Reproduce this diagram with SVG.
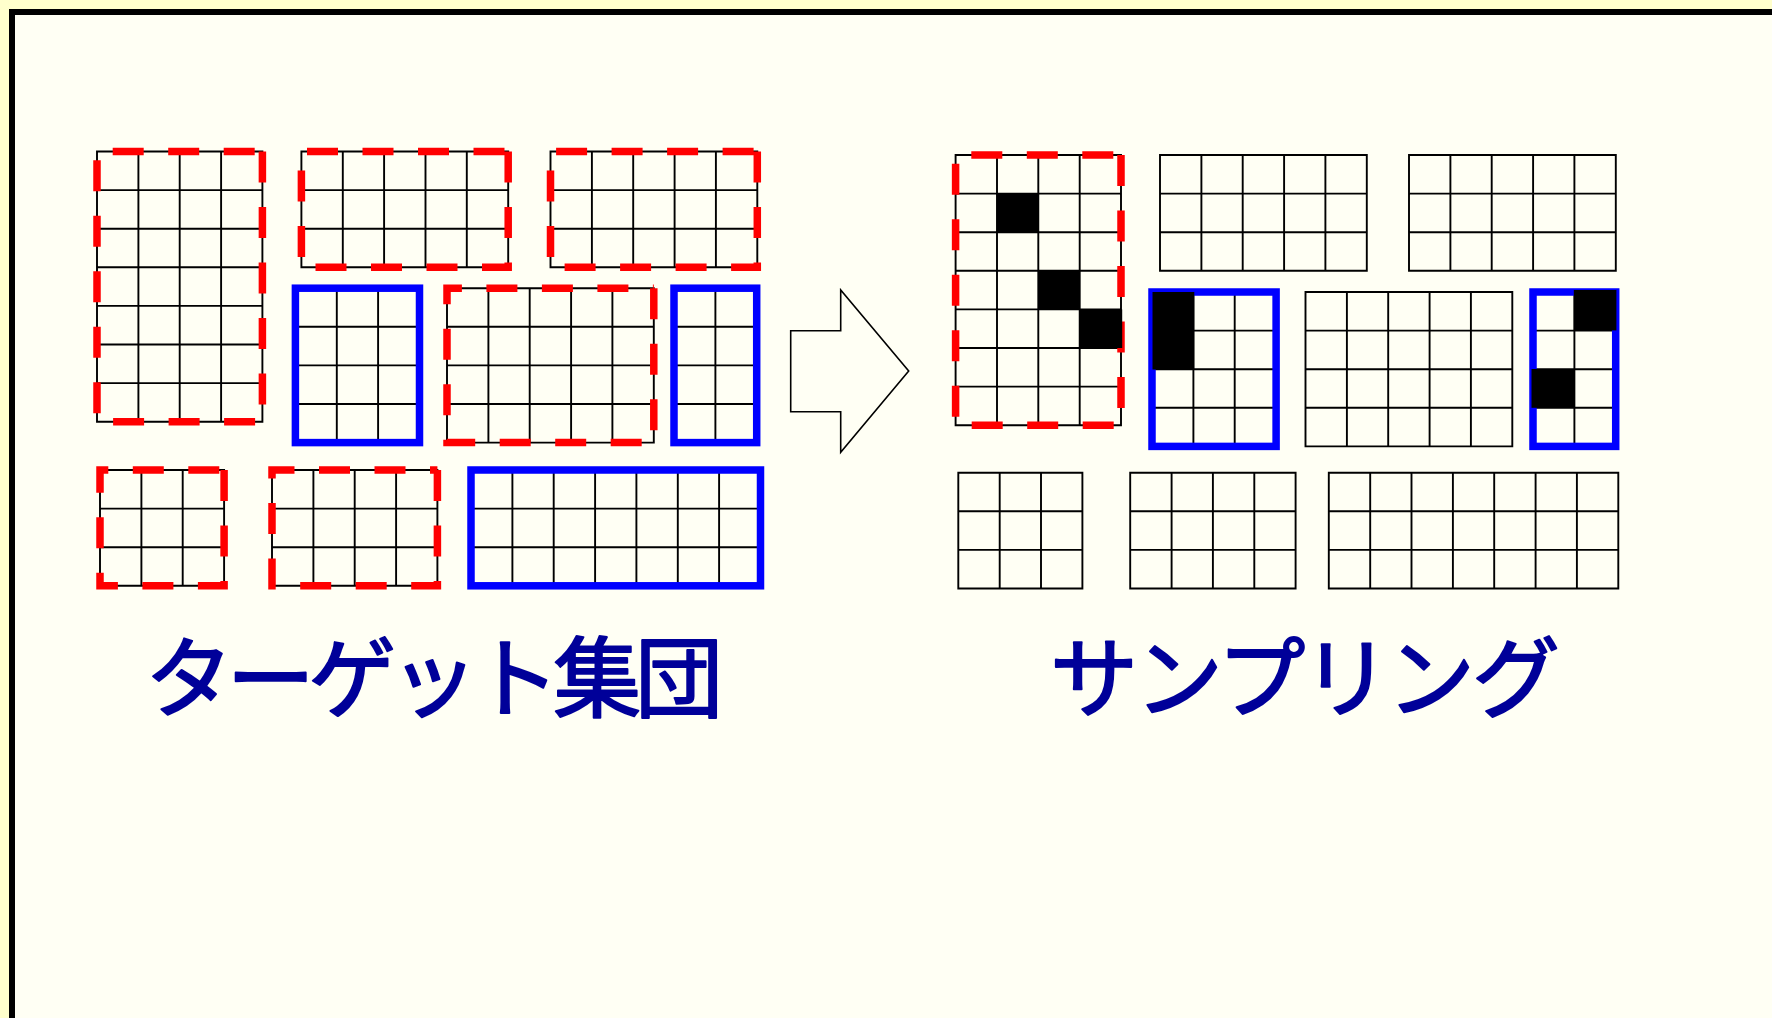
<svg xmlns="http://www.w3.org/2000/svg" width="1772" height="1018" viewBox="0 0 1772 1018">
<style>
.g{fill:none;stroke:#000;stroke-width:1.9}
.r{fill:none;stroke:#FF0000;stroke-width:7.5;stroke-dasharray:31 24.5}
.b{fill:none;stroke:#0000FF;stroke-width:7.5}
.k{fill:#000}
.t{font-family:"Noto Sans CJK JP","Noto Sans CJK SC",sans-serif;font-size:88px;font-weight:normal;fill:#000099;stroke:#000099;stroke-width:2;stroke-linejoin:round}
</style>
<rect x="0" y="0" width="1772" height="1018" fill="#FFFFCC"/>
<rect x="12" y="12" width="1800" height="1050" fill="#FFFFF4" stroke="#000" stroke-width="6"/>

<g id="target-A">
<path class="g" d="M97 151.5H262.4V421.7H97Z M138.4 151.5V421.7 M179.7 151.5V421.7 M221.1 151.5V421.7 M97 190.1H262.4 M97 228.7H262.4 M97 267.3H262.4 M97 305.9H262.4 M97 344.5H262.4 M97 383.1H262.4"/>
<path class="r" d="M262.4 151.5V421.7H97V151.5H262.4"/>
</g>
<g id="target-B">
<path class="g" d="M301.4 151.5H508.2V267.3H301.4Z M342.8 151.5V267.3 M384.1 151.5V267.3 M425.5 151.5V267.3 M466.8 151.5V267.3 M301.4 190.1H508.2 M301.4 228.7H508.2"/>
<path class="r" d="M508.2 151.5V267.3H301.4V151.5H508.2"/>
</g>
<g id="target-C">
<path class="g" d="M550.5 151.5H757.3V267.3H550.5Z M591.9 151.5V267.3 M633.2 151.5V267.3 M674.6 151.5V267.3 M715.9 151.5V267.3 M550.5 190.1H757.3 M550.5 228.7H757.3"/>
<path class="r" d="M757.3 151.5V267.3H550.5V151.5H757.3"/>
</g>
<g id="target-D">
<path class="g" d="M295.4 288.2H419.5V442.6H295.4Z M336.8 288.2V442.6 M378.1 288.2V442.6 M295.4 326.8H419.5 M295.4 365.4H419.5 M295.4 404H419.5"/>
<rect class="b" x="295.4" y="288.2" width="124.1" height="154.4"/>
</g>
<g id="target-E">
<path class="g" d="M447 288.2H653.8V442.6H447Z M488.4 288.2V442.6 M529.7 288.2V442.6 M571.1 288.2V442.6 M612.4 288.2V442.6 M447 326.8H653.8 M447 365.4H653.8 M447 404H653.8"/>
<path class="r" d="M653.8 288.2V442.6H447V288.2H653.8"/>
</g>
<g id="target-F">
<path class="g" d="M674 288.2H756.7V442.6H674Z M715.4 288.2V442.6 M674 326.8H756.7 M674 365.4H756.7 M674 404H756.7"/>
<rect class="b" x="674" y="288.2" width="82.7" height="154.4"/>
</g>
<g id="target-G">
<path class="g" d="M100 470H224.1V585.8H100Z M141.4 470V585.8 M182.7 470V585.8 M100 508.6H224.1 M100 547.2H224.1"/>
<path class="r" d="M224.1 470V585.8H100V470H224.1"/>
</g>
<g id="target-H">
<path class="g" d="M272 470H437.4V585.8H272Z M313.4 470V585.8 M354.7 470V585.8 M396.1 470V585.8 M272 508.6H437.4 M272 547.2H437.4"/>
<path class="r" d="M437.4 470V585.8H272V470H437.4"/>
</g>
<g id="target-I">
<path class="g" d="M471 470H760.5V585.8H471Z M512.4 470V585.8 M553.7 470V585.8 M595.1 470V585.8 M636.4 470V585.8 M677.8 470V585.8 M719.1 470V585.8 M471 508.6H760.5 M471 547.2H760.5"/>
<rect class="b" x="471" y="470" width="289.5" height="115.8"/>
</g>

<g id="connectors">
<polygon points="790.7,330.7 840.7,330.7 840.7,290 908.7,371 840.7,452.3 840.7,411.7 790.7,411.7" fill="none" stroke="#000" stroke-width="1.6"/>
</g>

<g id="sample-A">
<path class="g" d="M955.6 155H1121V425.2H955.6Z M997 155V425.2 M1038.3 155V425.2 M1079.7 155V425.2 M955.6 193.6H1121 M955.6 232.2H1121 M955.6 270.8H1121 M955.6 309.4H1121 M955.6 348H1121 M955.6 386.6H1121"/>
<path class="r" d="M1121 155V425.2H955.6V155H1121"/>
<rect class="k" x="997" y="193.6" width="41.3" height="38.6"/>
<rect class="k" x="1038.3" y="270.8" width="41.4" height="38.6"/>
<rect class="k" x="1079.7" y="309.4" width="42.5" height="38.6"/>
</g>
<g id="sample-B">
<path class="g" d="M1160 155H1366.8V270.8H1160Z M1201.4 155V270.8 M1242.7 155V270.8 M1284.1 155V270.8 M1325.4 155V270.8 M1160 193.6H1366.8 M1160 232.2H1366.8"/>
</g>
<g id="sample-C">
<path class="g" d="M1409 155H1615.8V270.8H1409Z M1450.4 155V270.8 M1491.7 155V270.8 M1533.1 155V270.8 M1574.4 155V270.8 M1409 193.6H1615.8 M1409 232.2H1615.8"/>
</g>
<g id="sample-D">
<path class="g" d="M1152 292H1276.1V446.4H1152Z M1193.4 292V446.4 M1234.7 292V446.4 M1152 330.6H1276.1 M1152 369.2H1276.1 M1152 407.8H1276.1"/>
<rect class="b" x="1152" y="292" width="124.1" height="154.4"/>
<rect class="k" x="1152.5" y="292" width="41.8" height="77.5"/>
</g>
<g id="sample-E">
<path class="g" d="M1305.5 292H1512.3V446.4H1305.5Z M1346.9 292V446.4 M1388.2 292V446.4 M1429.6 292V446.4 M1470.9 292V446.4 M1305.5 330.6H1512.3 M1305.5 369.2H1512.3 M1305.5 407.8H1512.3"/>
</g>
<g id="sample-F">
<path class="g" d="M1533 292H1615.7V446.4H1533Z M1574.4 292V446.4 M1533 330.6H1615.7 M1533 369.2H1615.7 M1533 407.8H1615.7"/>
<rect class="b" x="1533" y="292" width="82.7" height="154.4"/>
<rect class="k" x="1573.8" y="290" width="42.6" height="40.4"/>
<rect class="k" x="1531.5" y="369" width="42.6" height="38.8"/>
</g>
<g id="sample-G">
<path class="g" d="M958.3 472.7H1082.4V588.5H958.3Z M999.7 472.7V588.5 M1041 472.7V588.5 M958.3 511.3H1082.4 M958.3 549.9H1082.4"/>
</g>
<g id="sample-H">
<path class="g" d="M1130.2 472.7H1295.6V588.5H1130.2Z M1171.6 472.7V588.5 M1212.9 472.7V588.5 M1254.3 472.7V588.5 M1130.2 511.3H1295.6 M1130.2 549.9H1295.6"/>
</g>
<g id="sample-I">
<path class="g" d="M1328.8 472.7H1618.3V588.5H1328.8Z M1370.2 472.7V588.5 M1411.5 472.7V588.5 M1452.9 472.7V588.5 M1494.2 472.7V588.5 M1535.6 472.7V588.5 M1576.9 472.7V588.5 M1328.8 511.3H1618.3 M1328.8 549.9H1618.3"/>
</g>

<g id="labels">
<text class="t" x="145" y="710" textLength="578" lengthAdjust="spacing">ターゲット集団</text>
<text class="t" x="1050" y="710" textLength="510" lengthAdjust="spacing">サンプリング</text>
</g>
</svg>
